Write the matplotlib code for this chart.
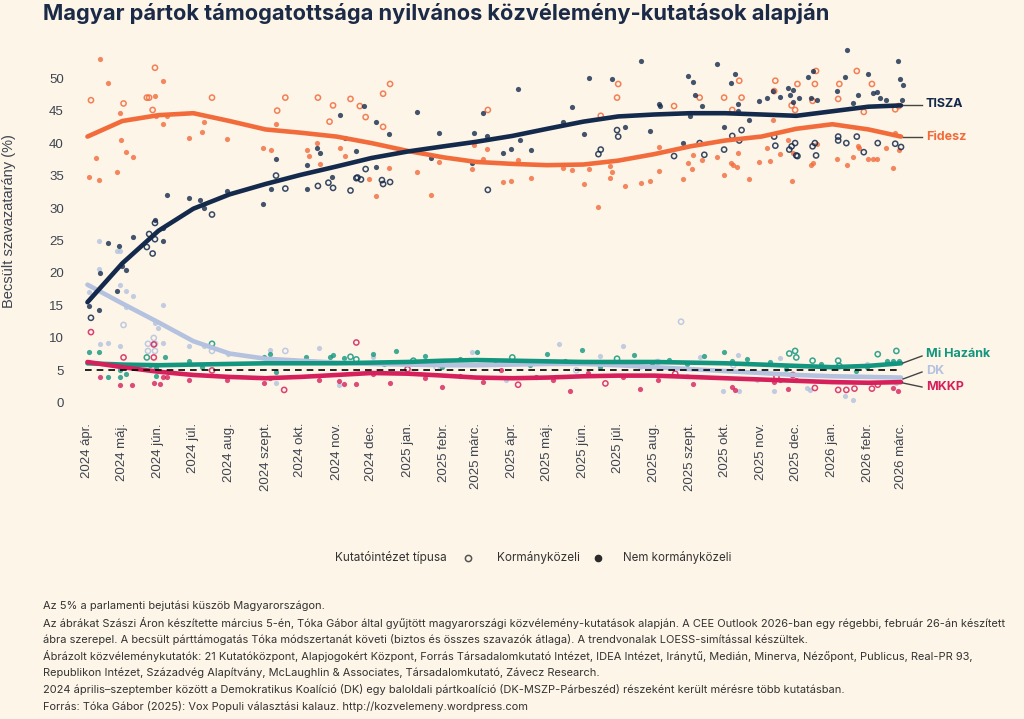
import matplotlib
matplotlib.use('Agg')
import matplotlib.pyplot as plt
from matplotlib.lines import Line2D
import pandas as pd

# Data: days after 2024-04-01, estimated support (%), 1 = Kormányközeli (open marker)
start = pd.Timestamp('2024-04-01')

tisza_polls = [
    (1,14.9,0),(10,14.3,0),(3,13.1,1),(11,20.0,0),(25,17.3,0),(18,24.6,0),(27,24.2,0),(30,21.0,0),
    (33,20.5,0),(39,25.5,0),(51,24.0,1),(53,26.0,1),(56,23.0,1),(58,27.7,1),(58,28.2,0),(58,25.2,1),
    (65,26.9,0),(65,25.0,0),(68,32.0,0),(87,31.6,0),(97,31.2,0),(100,30.0,0),(107,29.0,1),(120,32.7,0),
    (151,30.6,0),(158,33.0,0),(162,35.0,1),(170,33.0,1),(162,37.5,0),(189,33.0,0),(189,36.6,0),
    (197,39.3,0),(200,38.5,0),(198,33.4,1),(207,33.9,1),(211,33.1,1),(210,34.8,0),(217,44.4,0),
    (221,40.8,0),(226,32.7,1),(231,34.6,1),(231,38.8,0),(238,45.7,0),(248,43.3,0),(259,41.4,0),
    (248,36.3,0),(239,36.0,1),(232,34.7,1),(235,34.4,1),(253,34.3,1),(254,33.7,1),(260,34.0,1),
    (283,44.8,0),(295,37.7,0),(302,41.6,0),(330,36.9,0),(332,41.6,0),(340,44.7,0),(343,41.1,0),
    (344,32.8,1),(357,38.4,0),(364,39.1,0),(370,48.4,0),(372,40.4,0),(381,39.0,0),(409,43.3,0),
    (416,45.6,0),(427,41.4,0),(431,50.0,0),(439,38.3,1),(441,39.0,1),(451,49.8,0),(455,42.0,1),
    (456,41.0,1),(462,42.4,0),(476,52.6,0),(483,41.9,0),(491,46.0,0),(492,45.7,0),(504,38.0,1),
    (512,40.0,0),(516,50.3,0),(518,44.2,0),(520,49.4,0),(522,47.4,0),(526,40.0,1),(528,45.7,0),
    (530,38.2,1),(541,52.1,0),(547,42.4,0),(547,39.0,1),(553,49.2,0),(554,41.1,1),(556,50.7,0),
    (559,46.0,0),(559,45.0,0),(560,40.4,1),(562,42.0,1),(568,43.6,0),(577,46.5,0),(584,46.9,0),
    (589,48.0,0),(590,41.0,1),(591,39.6,1),(595,47.1,0),(602,48.5,0),(603,39.0,1),(604,47.4,0),
    (605,39.5,1),(606,48.2,0),(606,46.3,0),(608,40.0,1),(609,38.1,1),(610,38.0,1),(611,47.0,0),
    (619,50.1,0),(622,47.0,0),(623,51.1,0),(623,39.5,1),(625,40.0,1),(626,38.1,1),(627,46.7,0),
    (644,48.0,0),(645,41.0,1),(645,40.4,1),(651,50.2,0),(652,40.0,1),(653,54.4,0),(658,46.1,0),
    (661,41.0,1),(662,47.4,0),(667,38.6,1),(671,50.6,0),(675,47.7,0),(678,47.9,0),(679,40.0,1),
    (681,46.9,0),(686,46.6,0),(694,39.9,1),(696,52.7,0),(698,49.9,0),(699,39.4,1),(700,46.6,0),
    (701,48.9,0),
]

fidesz_polls = [
    (1,34.8,0),(3,46.6,1),(7,37.7,0),(10,34.3,0),(11,53.0,0),(18,49.3,0),(25,35.5,0),(28,44.7,0),
    (29,40.4,0),(31,46.1,1),(33,38.6,0),(39,37.9,0),(51,47.0,1),(53,47.0,1),(56,45.1,1),(58,51.6,1),
    (58,47.2,0),(59,44.1,0),(65,49.6,0),(65,43.0,0),(68,44.1,0),(87,40.8,0),(98,41.7,0),(100,43.3,0),
    (107,47.0,1),(120,40.6,0),(151,39.3,0),(158,39.0,0),(162,43.0,0),(163,45.0,1),(170,47.0,1),
    (189,39.0,0),(190,38.0,0),(197,40.0,0),(198,47.0,1),(200,36.8,0),(208,43.3,1),(211,45.8,1),
    (217,39.3,0),(221,38.0,0),(226,46.8,1),(234,45.7,1),(239,44.0,1),(242,34.4,0),(248,31.9,0),
    (254,47.6,1),(254,42.5,1),(259,36.1,0),(260,49.1,1),(283,35.6,0),(295,32.0,0),(302,37.1,0),
    (330,36.0,0),(332,39.7,0),(340,37.6,0),(343,39.1,0),(344,45.1,1),(357,34.0,0),(364,34.2,0),
    (370,37.4,0),(381,34.6,0),(409,36.2,0),(416,35.9,0),(427,33.7,0),(431,36.0,0),(439,30.2,0),
    (441,44.2,1),(449,36.5,0),(451,35.5,0),(449,34.7,0),(455,47.0,1),(456,49.1,1),(462,33.4,0),
    (476,33.9,0),(483,34.2,0),(491,39.4,0),(491,35.7,0),(504,45.7,1),(512,34.4,0),(516,36.9,0),
    (519,36.0,0),(520,38.2,0),(526,47.0,1),(528,37.4,0),(541,37.8,0),(547,47.0,1),(547,35.1,0),
    (553,37.0,0),(554,45.1,1),(555,36.6,0),(558,36.3,0),(559,38.4,0),(560,49.6,1),(562,47.0,1),
    (568,34.4,0),(577,37.1,0),(584,39.3,0),(586,37.2,0),(589,43.5,0),(590,48.0,1),(591,49.6,1),
    (595,38.3,0),(602,40.5,0),(605,45.8,1),(605,34.2,0),(606,38.4,0),(608,45.1,1),(610,49.1,1),
    (622,36.7,0),(623,37.0,0),(623,46.5,1),(625,49.1,1),(626,51.1,1),(627,39.8,0),(644,37.5,0),
    (645,46.8,1),(646,49.1,1),(653,36.7,0),(658,37.9,0),(661,51.1,1),(662,39.5,0),(663,39.2,0),
    (667,44.8,1),(671,37.6,0),(674,49.1,1),(675,37.5,0),(678,37.6,0),(686,39.2,0),(692,36.2,0),
    (694,41.5,0),(694,45.2,1),(697,39.0,0),(697,45.7,1),
]

dk_polls = [
    (1,17.0,0),(10,25.0,0),(10,20.6,0),(25,23.4,0),(28,23.4,0),(28,18.2,0),(33,17.3,0),(33,14.8,0),
    (39,16.4,0),(11,9.0,0),(18,9.2,0),(28,8.7,0),(31,12.0,1),(58,12.3,0),(61,11.6,0),(57,10.0,1),
    (52,9.1,1),(58,9.1,1),(52,8.0,1),(58,8.0,1),(65,9.2,0),(65,15.0,0),(87,8.7,0),(100,8.7,0),
    (107,8.0,1),(121,7.5,0),(157,8.2,0),(170,8.0,1),(199,8.5,0),(162,3.0,0),(216,2.8,0),
    (245,7.0,0),(270,6.2,0),(300,5.5,1),(330,7.8,0),(360,3.5,0),(385,6.5,0),(405,9.0,0),(420,5.0,1),
    (440,7.2,0),(460,8.8,0),(475,5.5,0),(490,6.3,1),(510,12.5,1),(515,4.2,0),(526,7.1,0),(546,1.9,0),
    (555,5.8,1),(559,7.3,0),(560,1.9,0),(575,3.5,0),(590,1.9,0),(595,6.9,0),(618,2.3,0),(621,2.0,0),
    (651,1.0,0),(658,0.5,0),(670,6.0,0),(695,3.0,0),
]

mi_polls = [
    (1,7.8,0),(10,7.8,0),(18,4.0,0),(28,4.0,0),(28,5.0,0),(33,4.5,0),(51,7.0,1),(54,5.8,0),(59,5.3,0),
    (59,4.2,0),(67,7.0,0),(87,6.4,0),(98,5.6,0),(107,9.1,1),(152,7.1,0),(157,7.6,0),(162,4.8,0),
    (188,7.0,0),(208,7.0,0),(211,7.4,0),(220,6.9,0),(226,7.1,1),(231,6.7,1),(245,7.5,0),(255,6.0,0),
    (265,8.0,0),(280,6.5,1),(290,7.2,0),(305,5.5,0),(320,6.8,0),(335,7.8,0),(350,6.0,0),(365,7.0,1),
    (380,5.8,0),(395,7.5,0),(410,6.5,0),(425,8.2,0),(440,5.5,0),(455,6.8,1),(470,7.3,0),(485,5.9,0),
    (500,6.6,0),(515,6.0,0),(530,7.2,0),(547,7.8,0),(554,6.5,0),(567,6.8,0),(586,6.3,0),(600,5.2,0),
    (603,7.6,1),(608,8.0,1),(609,7.0,1),(623,6.5,1),(630,6.0,0),(645,6.5,1),(646,5.7,1),(660,4.9,0),
    (670,5.5,0),(679,7.5,1),(687,6.4,0),(692,6.5,0),(695,8.0,1),(697,6.5,0),
]

mkkp_polls = [
    (3,10.9,1),(31,7.0,1),(57,9.0,1),(57,7.0,1),(11,4.0,0),(28,2.8,0),(38,2.8,0),(57,3.1,0),(62,2.9,0),
    (65,4.0,0),(68,4.0,0),(87,3.5,0),(107,5.0,1),(120,3.5,0),(152,3.0,0),(157,3.8,0),(169,2.0,1),
    (199,3.5,0),(216,3.3,0),(220,2.9,0),(231,2.9,0),(231,9.3,1),(245,4.5,0),(260,3.0,0),(275,5.2,1),
    (290,3.8,0),(305,2.5,0),(320,4.2,0),(340,3.2,0),(355,5.0,0),(370,2.8,1),(385,4.0,0),(400,3.5,0),
    (415,1.8,0),(430,4.6,0),(445,3.0,1),(460,4.0,0),(475,2.2,0),(490,3.6,0),(505,4.5,1),(520,2.9,0),
    (554,2.4,0),(556,2.0,0),(590,3.2,0),(592,4.0,1),(595,3.5,0),(602,2.2,0),(606,4.3,1),(609,3.5,0),
    (625,2.3,1),(645,2.0,1),(652,2.0,1),(659,2.2,1),(674,2.2,1),(679,2.8,1),(692,2.3,0),(696,1.9,0),
]

# LOESS trend read at each month start (2024 ápr. .. 2026 márc.)
months = pd.date_range('2024-04-01', '2026-03-01', freq='MS')
tisza_trend = [15.5, 21.5, 26.5, 29.9, 32.1, 33.7, 35.1, 36.4, 37.7, 38.7, 39.5, 40.2,
               41.1, 42.2, 43.3, 44.1, 44.4, 44.6, 44.6, 44.4, 44.2, 44.9, 45.6, 45.8]
fidesz_trend = [41.0, 43.4, 44.3, 44.6, 43.4, 42.1, 41.6, 41.0, 40.0, 38.8, 37.8, 37.1,
                36.8, 36.6, 36.7, 37.3, 38.3, 39.5, 40.4, 41.0, 42.2, 42.9, 42.1, 41.0]
dk_trend = [18.2, 15.3, 12.4, 9.5, 7.6, 6.8, 6.5, 6.2, 6.0, 5.9, 5.8, 5.8,
            5.9, 6.0, 6.0, 5.8, 5.5, 5.2, 4.9, 4.6, 4.3, 4.1, 4.0, 3.9]
mi_trend = [6.1, 5.9, 5.8, 5.9, 6.0, 6.1, 6.1, 6.1, 6.2, 6.3, 6.5, 6.6,
            6.5, 6.4, 6.3, 6.3, 6.3, 6.2, 6.1, 5.9, 5.7, 5.5, 5.7, 6.1]
mkkp_trend = [6.3, 5.5, 4.8, 4.3, 4.0, 3.8, 4.0, 4.3, 4.6, 4.5, 4.2, 3.9,
              3.8, 3.9, 4.1, 4.2, 4.2, 4.0, 3.8, 3.6, 3.4, 3.2, 3.1, 3.2]

month_names = ['jan.', 'febr.', 'márc.', 'ápr.', 'máj.', 'jún.', 'júl.', 'aug.',
               'szept.', 'okt.', 'nov.', 'dec.']

bg = '#fdf5e8'
parties = [
    ('DK', dk_polls, dk_trend, '#b4c2e0'),
    ('Mi Hazánk', mi_polls, mi_trend, '#13967f'),
    ('MKKP', mkkp_polls, mkkp_trend, '#d6205c'),
    ('Fidesz', fidesz_polls, fidesz_trend, '#f26b3b'),
    ('TISZA', tisza_polls, tisza_trend, '#142a4c'),
]

fig = plt.figure(figsize=(10.24, 7.19), dpi=100, facecolor=bg)
ax = fig.add_axes([75/1024, 1-412/719, 835/1024, 367/719])
ax.set_facecolor(bg)

#scatter of the polls, open marker = government-aligned pollster
for name, polls, trend, col in parties:
    df = pd.DataFrame(polls, columns=['day', 'val', 'gov'])
    df['date'] = start + pd.to_timedelta(df['day'], unit='D')
    op = df[df.gov == 1]
    fl = df[df.gov == 0]
    ax.scatter(fl['date'], fl['val'], s=14, color=col, alpha=0.8, linewidths=0, zorder=2)
    ax.scatter(op['date'], op['val'], s=14, facecolors='none', edgecolors=col,
               alpha=0.85, linewidths=1.1, zorder=2)

#trend lines
for name, polls, trend, col in parties:
    ax.plot(months, trend, color=col, lw=3.3, solid_capstyle='round',
            solid_joinstyle='round', zorder=3)

ax.axhline(5, color='black', lw=1.2, ls=(0, (4, 3)), zorder=4,
           xmin=0.012, xmax=0.985)

ax.set_xlim(pd.Timestamp('2024-03-21 07:00'), pd.Timestamp('2026-03-08 17:00'))
ax.set_ylim(-1.4, 55.1)
ax.set_yticks(range(0, 55, 5))
ax.set_xticks(months)
ax.set_xticklabels([f'{d.year} {month_names[d.month-1]}' for d in months], rotation=90)
for s in ax.spines.values():
    s.set_visible(False)
ax.tick_params(length=0, labelsize=9.5, labelcolor='#3d4450', pad=8)
for lab in ax.get_xticklabels() + ax.get_yticklabels():
    lab.set_family('Liberation Sans')
ax.set_ylabel('Becsült szavazatarány (%)', fontsize=10.5, color='#3d4450',
              family='Liberation Sans')
ax.yaxis.set_label_coords(-0.071, 0.52)

# right-hand party labels with connector lines (figure pixel positions)
def fx(px):
    return px / 1024
def fy(py):
    return 1 - py / 719

end_labels = [
    ('TISZA', '#142a4c', 105, 105, 104),
    ('Fidesz', '#f26b3b', 137, 137, 137),
    ('Mi Hazánk', '#13967f', 363, 356, 354),
    ('DK', '#b4c2e0', 379, 372, 371),
    ('MKKP', '#d6205c', 383, 387, 387),
]
for txt, col, y0, y1, yt in end_labels:
    fig.add_artist(Line2D([fx(903), fx(922)], [fy(y0), fy(y1)], color='#444444', lw=1))
    fig.text(fx(926), fy(yt), txt, color=col, fontsize=9, fontweight='bold',
             family='Inter', va='center', ha='left')

fig.text(fx(43), fy(13), 'Magyar pártok támogatottsága nyilvános közvélemény-kutatások alapján',
         fontsize=15.7, fontweight='bold', color='#1b2a47', family='Inter', va='center')

# legend
ly = fy(558)
fig.text(fx(335), ly, 'Kutatóintézet típusa', fontsize=8.5, color='#333333',
         family='Inter', va='center')
fig.add_artist(Line2D([fx(468)], [ly], marker='o', markersize=4.5, markerfacecolor='none',
                      markeredgecolor='#555555', markeredgewidth=1.1, ls='none'))
fig.text(fx(497), ly, 'Kormányközeli', fontsize=8.5, color='#333333', family='Inter', va='center')
fig.add_artist(Line2D([fx(598)], [ly], marker='o', markersize=4.5, color='#2b2b2b', ls='none'))
fig.text(fx(623), ly, 'Nem kormányközeli', fontsize=8.3, color='#333333', family='Inter', va='center')

notes = [
    'Az 5% a parlamenti bejutási küszöb Magyarországon.',
    'Az ábrákat Szászi Áron készítette március 5-én, Tóka Gábor által gyűjtött magyarországi közvélemény-kutatások alapján. A CEE Outlook 2026-ban egy régebbi, február 26-án készített',
    'ábra szerepel. A becsült párttámogatás Tóka módszertanát követi (biztos és összes szavazók átlaga). A trendvonalak LOESS-simítással készültek.',
    'Ábrázolt közvéleménykutatók: 21 Kutatóközpont, Alapjogokért Központ, Forrás Társadalomkutató Intézet, IDEA Intézet, Iránytű, Medián, Minerva, Nézőpont, Publicus, Real-PR 93,',
    'Republikon Intézet, Századvég Alapítvány, McLaughlin & Associates, Társadalomkutató, Závecz Research.',
    '2024 április–szeptember között a Demokratikus Koalíció (DK) egy baloldali pártkoalíció (DK-MSZP-Párbeszéd) részeként került mérésre több kutatásban.',
    'Forrás: Tóka Gábor (2025): Vox Populi választási kalauz. http://kozvelemeny.wordpress.com',
]
for i, line in enumerate(notes):
    fig.text(fx(43), fy(606 + i * 16.7), line, fontsize=7.95, color='#333333',
             family='Inter', va='center')

fig.savefig('out.png', dpi=100, facecolor=bg)
